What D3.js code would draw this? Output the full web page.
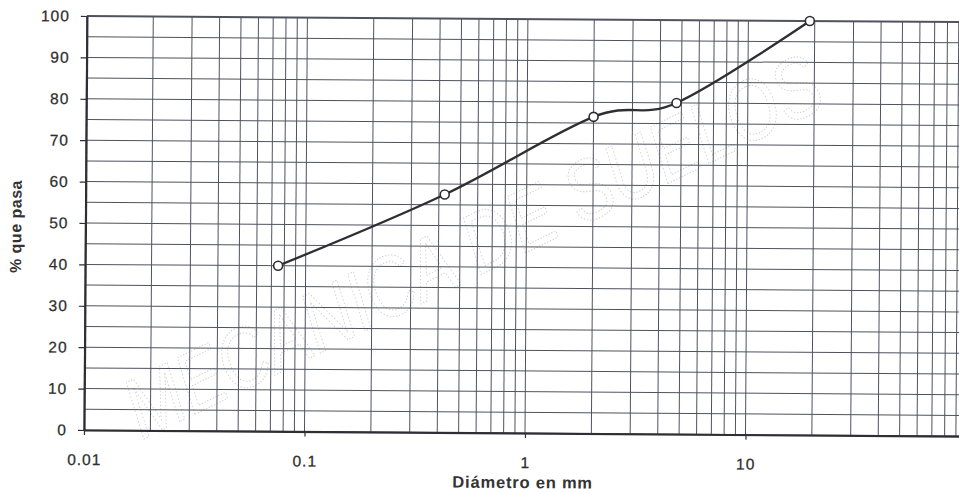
<!DOCTYPE html>
<html>
<head>
<meta charset="utf-8">
<script src="https://cdn.jsdelivr.net/npm/d3@7"></script>
<style>
  body { margin: 0; background: #fff; }
  text { font-family: "Liberation Sans", Arial, sans-serif; }
</style>
</head>
<body>
<div id="chart"></div>
<script>
// granulometria: diametro de tamiz (mm) y % que pasa
var diametro = [0.075, 0.425, 2.0, 4.75, 19.0];
var pasa     = [40, 57.5, 76.5, 80, 100];

// etiquetas de los ejes
var xTickLabels = [0.01, 0.1, 1, 10];
var yTickLabels = [0, 10, 20, 30, 40, 50, 60, 70, 80, 90, 100];

var W = 959, H = 494;

var svg = d3.select("#chart").append("svg")
    .attr("width", W)
    .attr("height", H);

// marca de agua del escaneo
svg.append("text")
    .attr("transform", "translate(142,440) rotate(-26) scale(1,1.25)")
    .attr("font-size", 68)
    .attr("font-style", "italic")
    .attr("fill", "none")
    .attr("stroke", "#cdcdcd")
    .attr("stroke-width", 0.8)
    .attr("stroke-dasharray", "1.2 1.8")
    .text("MECANICA DE SUELOS");

// the scan is turned a little, so the whole chart is too
var g = svg.append("g").attr("transform", "rotate(0.4,84,430)");

var x = d3.scaleLog().domain([0.01, 100]).range([84, 966]);
var y = d3.scaleLinear().domain([0, 100]).range([430, 16]);

// grid
g.append("g").selectAll("line")
    .data(x.ticks())
    .enter().append("line")
      .attr("x1", function(d) { return x(d); })
      .attr("x2", function(d) { return x(d); })
      .attr("y1", y(0))
      .attr("y2", y(100))
      .attr("stroke", "#50525e")
      .attr("stroke-width", 1);

g.append("g").selectAll("line")
    .data(d3.range(0, 101, 5))
    .enter().append("line")
      .attr("x1", x(0.01))
      .attr("x2", x(100))
      .attr("y1", function(d) { return y(d); })
      .attr("y2", function(d) { return y(d); })
      .attr("stroke", "#50525e")
      .attr("stroke-width", function(d) { return d == 100 ? 2 : 1; });

// ejes
var yAxis = g.append("g")
    .attr("transform", "translate(" + x(0.01) + ",0)")
    .call(d3.axisLeft(y).tickValues(yTickLabels).tickSizeInner(6).tickSizeOuter(0).tickPadding(11));

var xAxis = g.append("g")
    .attr("transform", "translate(0," + y(0) + ")")
    .call(d3.axisBottom(x).tickValues(xTickLabels).tickSizeInner(5).tickSizeOuter(0).tickPadding(19)
      .tickFormat(function(d) { return String(d); }));

[xAxis, yAxis].forEach(function(a) {
  a.select(".domain").attr("stroke", "#2e2e34").attr("stroke-width", 2.2);
  a.selectAll(".tick line").attr("stroke", "#2e2e34").attr("stroke-width", 1.2);
  a.selectAll(".tick text")
      .attr("fill", "#2e2e2e")
      .attr("stroke", "#2e2e2e")
      .attr("stroke-width", 0.25)
      .attr("font-size", 15.5)
      .attr("letter-spacing", 1)
      .style("font-family", "'Liberation Sans', Arial, sans-serif");
});

// titulos
g.append("text")
    .attr("x", 523)
    .attr("y", 485)
    .attr("text-anchor", "middle")
    .attr("font-size", 16.5)
    .attr("font-weight", "bold")
    .attr("letter-spacing", 0.8)
    .attr("fill", "#333")
    .text("Diámetro en mm");

g.append("text")
    .attr("transform", "translate(20,227) rotate(-90)")
    .attr("text-anchor", "middle")
    .attr("font-size", 16)
    .attr("font-weight", "bold")
    .attr("letter-spacing", 0.5)
    .attr("fill", "#333")
    .text("% que pasa");

// curva granulometrica
var pts = diametro.map(function(d, i) { return [d, pasa[i]]; });

var line = d3.line()
    .x(function(d) { return x(d[0]); })
    .y(function(d) { return y(d[1]); })
    .curve(d3.curveCardinal.tension(0));

g.append("path")
    .datum(pts)
    .attr("d", line)
    .attr("fill", "none")
    .attr("stroke", "#2f2f33")
    .attr("stroke-width", 2.3);

g.selectAll("circle")
    .data(pts)
    .enter().append("circle")
      .attr("cx", function(d) { return x(d[0]); })
      .attr("cy", function(d) { return y(d[1]); })
      .attr("r", 4.5)
      .attr("fill", "#fff")
      .attr("stroke", "#2f2f33")
      .attr("stroke-width", 1.6);
</script>
</body>
</html>
